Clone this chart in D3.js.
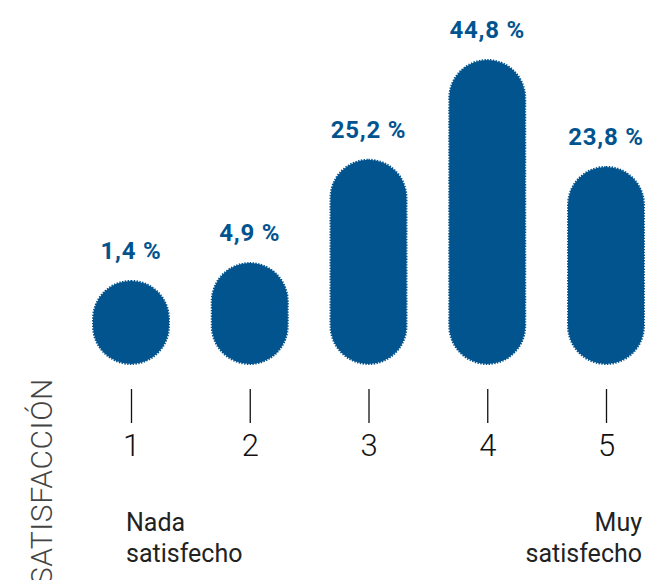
<!DOCTYPE html>
<html>
<head>
<meta charset="utf-8">
<script src="https://cdn.jsdelivr.net/npm/d3@7"></script>
<style>
  html, body { margin: 0; padding: 0; background: #fff; }
  svg { display: block; }
</style>
</head>
<body>
<svg id="chart" width="647" height="580"></svg>
<script>
const categories = ["1", "2", "3", "4", "5"];
const values = [1.4, 4.9, 25.2, 44.8, 23.8];
const valueLabels = ["1,4 %", "4,9 %", "25,2 %", "44,8 %", "23,8 %"];
const axisTitle = "SATISFACCIÓN";
const lowLabel = ["Nada", "satisfecho"];
const highLabel = ["Muy", "satisfecho"];

const blue = "#02548F";
const svg = d3.select("#chart");

const barW = 76;
const baseY = 364;

const x = d3.scalePoint().domain(categories).range([131, 606]);
// bar height = full rounded cap (width) + value-proportional part
const h = d3.scaleLinear().domain([0, 44.8]).range([0, 228]);

const data = categories.map((c, i) => ({ c, v: values[i], lab: valueLabels[i] }));

const g = svg.append("g");

g.selectAll("rect.bar").data(data).join("rect")
  .attr("class", "bar")
  .attr("x", d => x(d.c) - barW / 2)
  .attr("width", barW)
  .attr("y", d => baseY - (barW + h(d.v)))
  .attr("height", d => barW + h(d.v))
  .attr("rx", barW / 2)
  .attr("ry", barW / 2)
  .attr("fill", blue)
  .attr("stroke", blue)
  .attr("stroke-width", 2)
  .attr("stroke-dasharray", "1.4 1.4");

g.selectAll("text.val").data(data).join("text")
  .attr("class", "val")
  .attr("x", d => x(d.c))
  .attr("y", d => baseY - (barW + h(d.v)) - 22)
  .attr("text-anchor", "middle")
  .attr("font-family", "Roboto, sans-serif")
  .attr("font-weight", 700)
  .attr("font-size", 24)
  .attr("letter-spacing", 0.8)
  .attr("fill", blue)
  .text(d => d.lab);

// axis with ticks
const axis = d3.axisBottom(x).tickSize(34).tickPadding(11);
const ax = svg.append("g").attr("transform", "translate(0,389)").call(axis);
ax.select(".domain").remove();
ax.selectAll(".tick line").attr("stroke", "#111").attr("stroke-width", 1.3);
ax.selectAll(".tick text")
  .attr("font-family", "Roboto, sans-serif")
  .attr("font-weight", 300)
  .attr("font-size", 31)
  .attr("fill", "#111");

// end labels
const lowT = svg.append("text")
  .attr("x", 126).attr("y", 531)
  .attr("font-family", "Roboto, sans-serif")
  .attr("font-weight", 400)
  .attr("font-size", 25)
  .attr("fill", "#222");
lowLabel.forEach((t, i) => lowT.append("tspan").attr("x", 126).attr("dy", i === 0 ? 0 : 31).text(t));

const highT = svg.append("text")
  .attr("x", 642).attr("y", 531)
  .attr("text-anchor", "end")
  .attr("font-family", "Roboto, sans-serif")
  .attr("font-weight", 400)
  .attr("font-size", 25)
  .attr("fill", "#222");
highLabel.forEach((t, i) => highT.append("tspan").attr("x", 642).attr("dy", i === 0 ? 0 : 31).text(t));

// rotated axis title
svg.append("text")
  .attr("transform", "translate(52,378) rotate(-90)")
  .attr("text-anchor", "end")
  .attr("font-family", "Roboto, sans-serif")
  .attr("font-weight", 300)
  .attr("font-size", 30)
  .attr("letter-spacing", 0.6)
  .attr("fill", "#444")
  .text(axisTitle);
</script>
</body>
</html>
